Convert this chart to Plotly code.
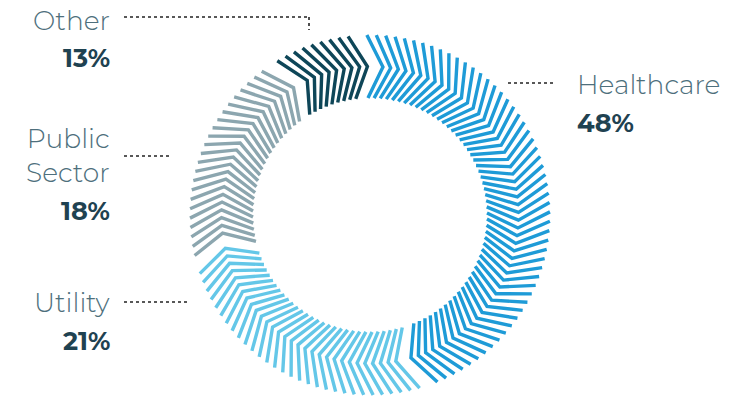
import numpy as np
import plotly.graph_objects as go

# ---- data ----
categories = ["Healthcare", "Utility", "Public Sector", "Other"]
percent_labels = [48, 21, 18, 13]
chevron_counts = [54, 30, 23, 9]          # chevrons drawn per segment
colors = ["#1E9BD7", "#64C7E8", "#8CA6AF", "#0E4658"]

# ---- geometry / style ----
W, H = 738, 399
cx, cy = 370, 215
r_out, r_in = 180, 117
r_mid = (r_out + r_in) / 2
step = 3.0        # degrees between chevrons
tip = 6.0         # vertex lead in degrees
start = -1.0

def pt(r, deg):
    a = np.radians(deg)
    return cx + r * np.sin(a), cy - r * np.cos(a)

fig = go.Figure()
ang = start
for cat, n, col in zip(categories, chevron_counts, colors):
    xs, ys = [], []
    for k in range(n):
        t = ang + k * step
        for r, d in ((r_out, t), (r_mid, t + tip), (r_in, t)):
            x, y = pt(r, d)
            xs.append(x); ys.append(y)
        xs.append(None); ys.append(None)
    fig.add_trace(go.Scatter(x=xs, y=ys, mode="lines", name=cat,
                             line=dict(color=col, width=3.4), hoverinfo="skip"))
    ang = ang + (n - 1) * step + tip

label_font = dict(family="Montserrat, Open Sans, sans-serif", size=26.5, color="#4E6F7C", weight=300)
pct_font = dict(family="Montserrat, Open Sans, sans-serif", size=25.5, color="#1F4251", weight=700)

# label layout: (category index, x, y_label, y_pct, anchor)
label_pos = [
    (0, 575, 84, 122, "left"),
    (1, 112, 302, 340, "right"),
    (2, 112, 155, 210, "right"),
    (3, 112, 20, 57, "right"),
]
for i, x, yl, yp, anc in label_pos:
    text = categories[i].replace(" ", "<br>")
    fig.add_annotation(x=x, y=yl, xref="x", yref="y", text=text, showarrow=False,
                       xanchor=anc, yanchor="middle", align=anc, font=label_font)
    fig.add_annotation(x=x, y=yp, xref="x", yref="y", text=f"<b>{percent_labels[i]}%</b>",
                       showarrow=False, xanchor=anc, yanchor="middle", font=pct_font)

dot = dict(color="#222222", width=1.6, dash="dot")
leaders = [
    (508, 83, 555, 83),
    (124, 302, 190, 302),
    (124, 156, 172, 156),
    (124, 17, 309, 17),
    (309, 17, 309, 30),
]
for x0, y0, x1, y1 in leaders:
    fig.add_shape(type="line", x0=x0, y0=y0, x1=x1, y1=y1, xref="x", yref="y", line=dot)

fig.update_layout(
    width=W, height=H, margin=dict(l=0, r=0, t=0, b=0),
    paper_bgcolor="white", plot_bgcolor="white", showlegend=False,
    xaxis=dict(range=[0, W], visible=False, fixedrange=True),
    yaxis=dict(range=[H, 0], visible=False, fixedrange=True),
)
fig.write_html("out.html")
